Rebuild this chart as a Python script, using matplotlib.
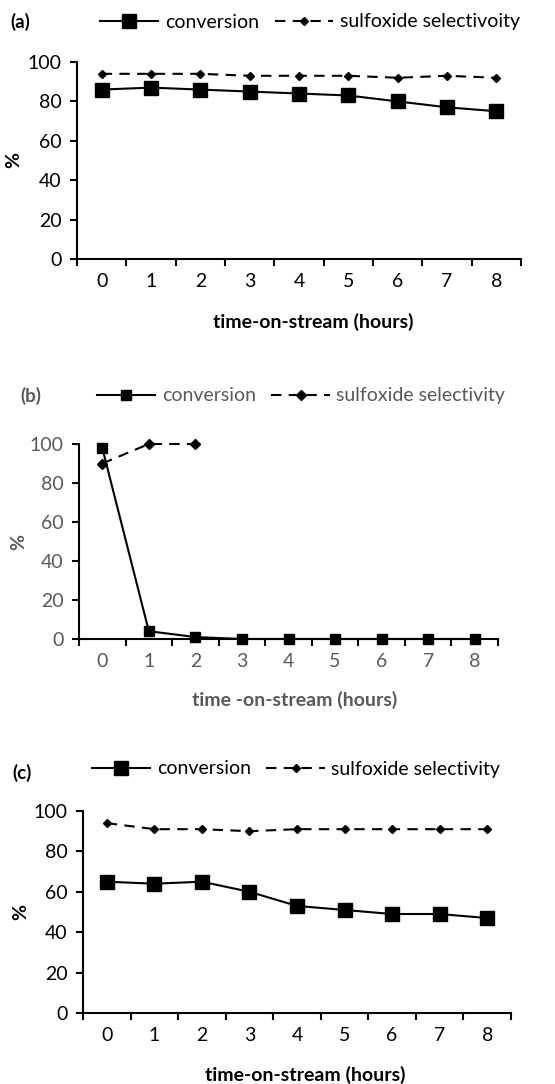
import numpy as np
import matplotlib
matplotlib.use("Agg")
from matplotlib import pyplot as plt

# hours on stream
hours = [0, 1, 2, 3, 4, 5, 6, 7, 8]

# panel (a)
conv_a = [86, 87, 86, 85, 84, 83, 80, 77, 75]
sel_a = [94, 94, 94, 93, 93, 93, 92, 93, 92]

# panel (b) - selectivity only measured for the first three hours
conv_b = [98, 4, 1, 0, 0, 0, 0, 0, 0]
sel_b = [90, 100, 100]

# panel (c)
conv_c = [65, 64, 65, 60, 53, 51, 49, 49, 47]
sel_c = [94, 91, 91, 90, 91, 91, 91, 91, 91]

yticks = [0, 20, 40, 60, 80, 100]

plt.rcParams['font.family'] = ['Lato', 'DejaVu Sans']

W, H = 555, 1084
FS = 14
fig = plt.figure(figsize=(W / 100, H / 100), dpi=100)


def px_axes(left, right, top, bottom):
    # pixel box -> figure fraction
    return [left / W, 1 - bottom / H, (right - left) / W, (bottom - top) / H]


def make_panel(box, conv, sel, text_color, ms_sq, ms_dia, tag, tag_xy,
               legend_x, legend_y, sel_label, xlabel, xlabel_xy, ylabel_x):
    ax = fig.add_axes(px_axes(*box))
    ax.plot(hours[:len(conv)], conv, color='black', lw=1.5, marker='s',
            ms=ms_sq, clip_on=False, zorder=3, label='conversion')
    ax.plot(hours[:len(sel)], sel, color='black', lw=1.5, ls=(0, (5, 3.5)),
            marker='D', ms=ms_dia, clip_on=False, zorder=3, label=sel_label)

    ax.set_xlim(-0.5, 8.5)
    ax.set_ylim(0, 100)
    for s in ['top', 'right']:
        ax.spines[s].set_visible(False)
    for s in ['left', 'bottom']:
        ax.spines[s].set_linewidth(1.5)

    # ticks between categories, labels at category centres
    ax.set_xticks(np.arange(-0.5, 9, 1))
    ax.set_xticklabels([])
    ax.set_xticks(hours, minor=True)
    ax.set_xticklabels([str(h) for h in hours], minor=True)
    ax.tick_params(axis='x', which='major', direction='out', length=5, width=1.5)
    ax.tick_params(axis='x', which='minor', length=0, pad=10,
                   labelsize=FS, labelcolor=text_color)
    ax.set_yticks(yticks)
    ax.tick_params(axis='y', direction='out', length=5, width=1.5, pad=6,
                   labelsize=FS, labelcolor=text_color)

    ax.set_ylabel('%', fontsize=FS, fontweight='bold', color=text_color)
    ax.yaxis.set_label_coords(ylabel_x, 0.5)

    fig.text(xlabel_xy[0] / W, 1 - xlabel_xy[1] / H, xlabel, fontsize=FS,
             fontweight='bold', color=text_color, ha='center', va='center')
    fig.text(tag_xy[0] / W, 1 - tag_xy[1] / H, tag, fontsize=13.5,
             fontweight='bold', color=text_color, ha='center', va='center')

    leg = ax.legend(loc='center', bbox_to_anchor=(legend_x / W, 1 - legend_y / H),
                    bbox_transform=fig.transFigure, ncol=2, frameon=False,
                    fontsize=FS, handlelength=3.0, columnspacing=0.8,
                    handletextpad=0.35, borderpad=0, borderaxespad=0)
    for t in leg.get_texts():
        t.set_color(text_color)
    return ax


make_panel((77, 521, 62, 259), conv_a, sel_a, 'black', 9.5, 4.2, '(a)', (20, 22),
           310, 22, 'sulfoxide selectivoity', 'time-on-stream (hours)', (313, 322), -0.124)
make_panel((79, 498, 444, 639), conv_b, sel_b, '#595959', 7.5, 5.2, '(b)', (31, 396),
           301, 396, 'sulfoxide selectivity', 'time -on-stream (hours)', (295, 700), -0.124)
make_panel((83, 511, 811, 1013), conv_c, sel_c, 'black', 9.5, 3.6, '(c)', (22, 773),
           296, 769, 'sulfoxide selectivity', 'time-on-stream (hours)', (305, 1075), -0.126)

fig.savefig('out.png', dpi=100)
